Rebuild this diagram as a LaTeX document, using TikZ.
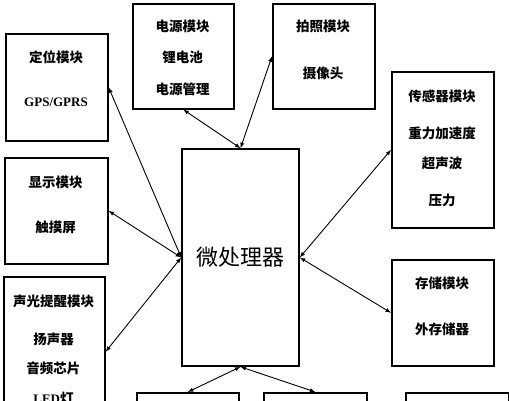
\documentclass[tikz,border=0pt]{standalone}
\usepackage{fontspec}
\newfontfamily\cjk{Noto Sans CJK SC}
\newfontfamily\latn{Liberation Serif}
\begin{document}
\begin{tikzpicture}[x=1pt,y=-1pt]
	\tikzstyle{modbox}=[draw,line width=1.6pt,inner sep=0pt,anchor=north west]
	\tikzstyle{modtext}=[inner sep=1pt,font=\cjk\bfseries\fontsize{13.5}{16}\selectfont]
	\tikzstyle{link}=[latex-latex,line width=0.9pt]
	\useasboundingbox (0,0) rectangle (509,400);
	
	% microprocessor
	\node[draw,line width=1.6pt,minimum width=117pt,minimum height=217pt] (cpu) at (240.5,257.5) {\cjk\fontsize{22}{26}\selectfont 微处理器};
	
	% left column
	\node[modbox,minimum width=102pt,minimum height=107pt] (gps) at (5,33) {};
	\node[modtext] (gps1) at (56,57) {定位模块};
	\node[modtext] (gps2) at (56,102) {\latn\bfseries\fontsize{13}{16}\selectfont GPS/GPRS};
	
	\node[modbox,minimum width=103pt,minimum height=106pt] (disp) at (4,157) {};
	\node[modtext] (disp1) at (55.5,182) {显示模块};
	\node[modtext] (disp2) at (55.5,227) {触摸屏};
	
	\node[modbox,minimum width=101pt,minimum height=150pt] (alarm) at (3,276) {};
	\node[modtext] (alarm1) at (53.5,301) {声光提醒模块};
	\node[modtext] (alarm2) at (53.5,339) {扬声器};
	\node[modtext] (alarm3) at (53.5,368) {音频芯片};
	\node[modtext] (alarm4) at (53.5,398) {{\latn\bfseries\fontsize{13}{16}\selectfont LED}灯};
	
	% top row
	\node[modbox,minimum width=101pt,minimum height=105pt] (power) at (132,3) {};
	\node[modtext] (power1) at (182.5,26) {电源模块};
	\node[modtext] (power2) at (182.5,57) {锂电池};
	\node[modtext] (power3) at (182.5,89) {电源管理};
	
	\node[modbox,minimum width=102pt,minimum height=105pt] (cam) at (272,3) {};
	\node[modtext] (cam1) at (323,26) {拍照模块};
	\node[modtext] (cam2) at (323,73) {摄像头};
	
	% right column
	\node[modbox,minimum width=102pt,minimum height=156pt] (sens) at (391,71) {};
	\node[modtext] (sens1) at (442,96) {传感器模块};
	\node[modtext] (sens2) at (442,133) {重力加速度};
	\node[modtext] (sens3) at (442,163) {超声波};
	\node[modtext] (sens4) at (442,200) {压力};
	
	\node[modbox,minimum width=102pt,minimum height=106pt] (store) at (391,259) {};
	\node[modtext] (store1) at (442,283) {存储模块};
	\node[modtext] (store2) at (442,329) {外存储器};
	
	% bottom row
	\node[modbox,minimum width=102pt,minimum height=100pt] (botA) at (136,392) {};
	\node[modbox,minimum width=103pt,minimum height=100pt] (botB) at (263,392) {};
	\node[modbox,minimum width=103pt,minimum height=100pt] (botC) at (405,392) {};
	
	% links
	\draw[link] (cpu.west) -- (gps.east);
	\draw[link] (cpu.west) -- (disp.east);
	\draw[link] (cpu.west) -- (alarm.east);
	\draw[link] (cpu.north) -- (power.south);
	\draw[link] (cpu.north) -- (cam.west);
	\draw[link] (cpu.east) -- (sens.west);
	\draw[link] (cpu.east) -- (store.west);
	\draw[link] (cpu.south) -- (botA.north);
	\draw[link] (cpu.south) -- (botB.north);
	
\end{tikzpicture}
\end{document}
